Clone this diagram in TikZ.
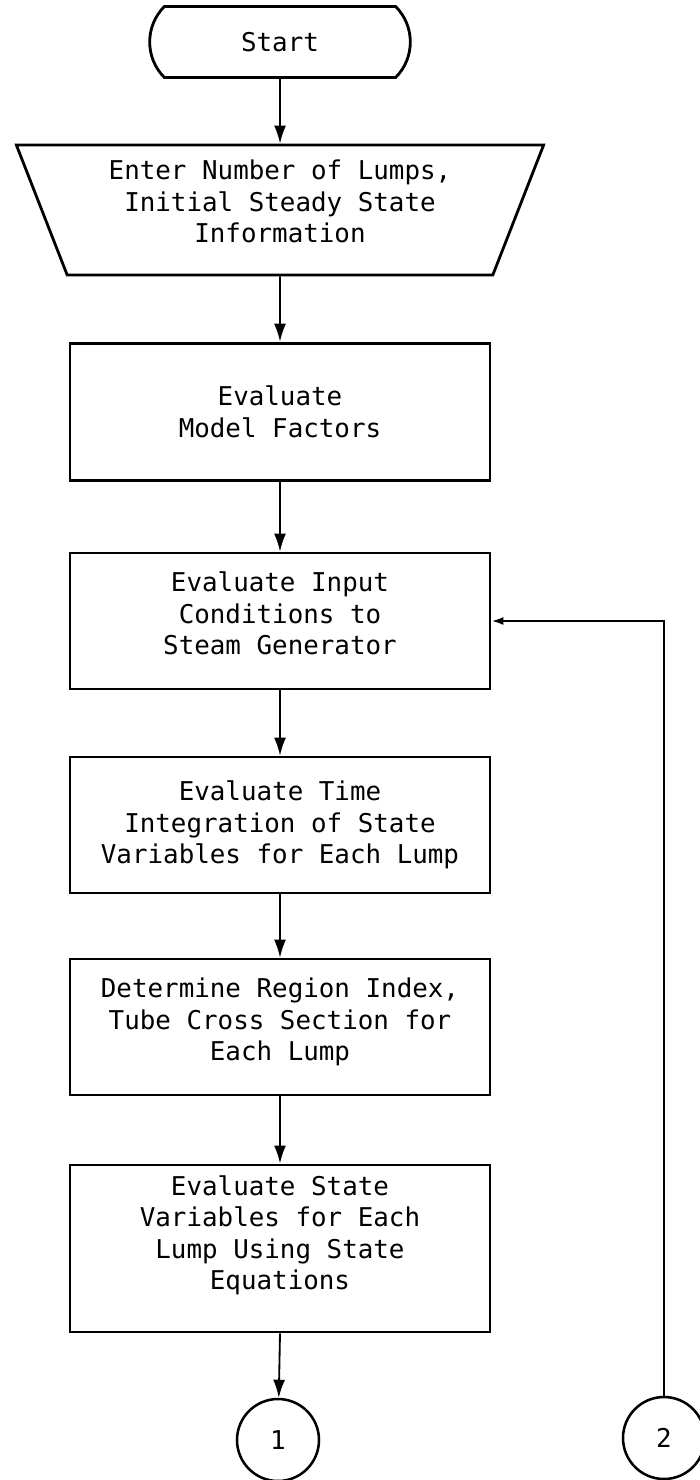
\documentclass[tikz,border=0pt]{standalone}
\usepackage{fontspec}
\newfontfamily\flowfont{DejaVu Sans Mono}
\usetikzlibrary{shapes.geometric,shapes.misc,arrows.meta,calc,positioning}

\tikzset{
  flowtext/.style={align=center, font={\flowfont\fontsize{18.4}{22.4}\selectfont}},
  flowbox/.style={flowtext, draw, line width=2pt, minimum width=10.5cm, minimum height=3.4cm},
  terminal/.style={flowtext, draw, line width=2pt, rounded rectangle, rounded rectangle arc length=90,
    minimum width=6.75cm, minimum height=1.775cm},
  inputbox/.style={flowtext, draw, line width=2pt, trapezium, shape border rotate=180,
    trapezium left angle=69, trapezium right angle=69, trapezium stretches=true,
    minimum width=13.2cm, minimum height=3.25cm},
  connector/.style={flowtext, draw, line width=1.8pt, circle, minimum size=2.05cm, inner sep=0pt},
  flowarrow/.style={line width=1.3pt, -{Latex[length=4.5mm,width=3mm]}}
}

\begin{document}
\begin{tikzpicture}
            \useasboundingbox (0,0) rectangle (17.5,-37);
            % Main column of the flow chart
            \node[terminal] (start) at (7,-1.05) {Start};
            \node[inputbox] (enter) at (7,-5.25) {Enter Number of Lumps,\\Initial Steady State\\Information\\[-0.35cm]};
            \node[flowbox, minimum height=3.425cm] (model) at (7,-10.29) {Evaluate\\Model Factors};
            \node[flowbox] (evalin) at (7,-15.525) {Evaluate Input\\Conditions to\\Steam Generator\\[-0.4cm]};
            \node[flowbox] (timeint) at (7,-20.625) {Evaluate Time\\Integration of State\\Variables for Each Lump};
            \node[flowbox] (region) at (7,-25.675) {Determine Region Index,\\Tube Cross Section for\\Each Lump\\[-0.4cm]};
            \node[flowbox, minimum height=4.175cm] (stateq) at (7,-31.21) {Evaluate State\\Variables for Each\\Lump Using State\\Equations\\\mbox{}};
            % Off-page connectors
            \node[connector] (c1) at (6.95,-36) {1};
            \node[connector] (c2) at (16.6,-35.95) {2};
            % Arrows down the column
            \draw[flowarrow] (start) -- (enter);
            \draw[flowarrow] (enter) -- (model);
            \draw[flowarrow] (model) -- (evalin);
            \draw[flowarrow] (evalin) -- (timeint);
            \draw[flowarrow] (timeint) -- (region);
            \draw[flowarrow] (region) -- (stateq);
            \draw[flowarrow] (stateq.south) -- (c1);
            % Return path into the input conditions
            \draw[line width=1.6pt, -{Latex[length=3mm,width=2mm]}] (c2) |- (evalin);
\end{tikzpicture}
\end{document}
